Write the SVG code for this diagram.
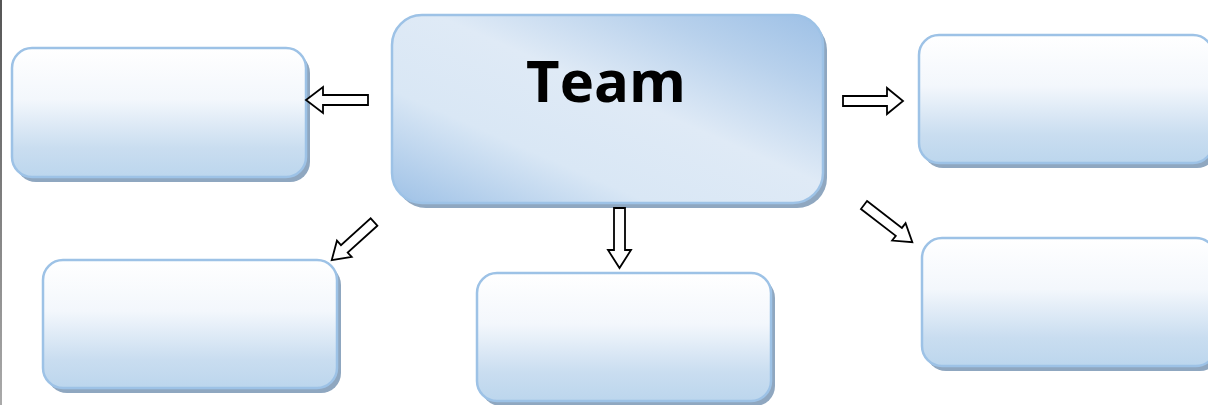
<svg xmlns="http://www.w3.org/2000/svg" width="1208" height="405" viewBox="0 0 1208 405">
<defs>
<linearGradient id="gNode" x1="0" y1="0" x2="0" y2="1">
<stop offset="0" stop-color="#ffffff"/>
<stop offset="0.4" stop-color="#f3f7fc"/>
<stop offset="0.78" stop-color="#c9ddf0"/>
<stop offset="1" stop-color="#bcd6ed"/>
</linearGradient>
<linearGradient id="gMain" x1="0" y1="1" x2="1" y2="0">
<stop offset="0" stop-color="#9ec1e6"/>
<stop offset="0.3" stop-color="#d9e7f5"/>
<stop offset="0.55" stop-color="#dfeaf6"/>
<stop offset="0.8" stop-color="#b8d1ec"/>
<stop offset="1" stop-color="#9dc0e6"/>
</linearGradient>
<linearGradient id="gEdge" x1="0" y1="0" x2="0" y2="1">
<stop offset="0" stop-color="#555"/>
<stop offset="1" stop-color="#aaa"/>
</linearGradient>
</defs>
<style>
.shadow{fill:#8fa7c0}
.box{fill:url(#gNode);stroke:#9dc2e6;stroke-width:2.5}
.main{fill:url(#gMain);stroke:#9dc2e6;stroke-width:2.5}
.arrow{fill:#ffffff;stroke:#000;stroke-width:1.8;stroke-linejoin:miter}
.title{font-family:"Open Sans","DejaVu Sans",sans-serif;font-weight:bold;font-size:58px;fill:#000}
</style>
<rect x="0" y="0" width="2" height="405" fill="url(#gEdge)"/>
<g id="team">
<rect class="shadow" x="396" y="20" width="431" height="188" rx="30"/>
<rect class="main" x="392" y="15" width="431" height="188" rx="30"/>
<text class="title" x="606" y="102" text-anchor="middle">Team</text>
</g>
<g id="node-left">
<rect class="shadow" x="16" y="53" width="294" height="129" rx="20"/>
<rect class="box" x="12" y="48" width="294" height="129" rx="20"/>
</g>
<g id="node-right">
<rect class="shadow" x="923" y="40" width="294" height="128" rx="20"/>
<rect class="box" x="919" y="35" width="294" height="128" rx="20"/>
</g>
<g id="node-bottom-left">
<rect class="shadow" x="47" y="265" width="294" height="128" rx="20"/>
<rect class="box" x="43" y="260" width="294" height="128" rx="20"/>
</g>
<g id="node-bottom-center">
<rect class="shadow" x="481" y="278" width="294" height="128" rx="20"/>
<rect class="box" x="477" y="273" width="294" height="128" rx="20"/>
</g>
<g id="node-bottom-right">
<rect class="shadow" x="926" y="243" width="294" height="128" rx="20"/>
<rect class="box" x="922" y="238" width="294" height="128" rx="20"/>
</g>
<g id="connectors">
<path class="arrow" transform="translate(368,100) rotate(180)" d="M0,-5 L45,-5 L45,-13 L62,0 L45,13 L45,5 L0,5 Z"/>
<path class="arrow" transform="translate(843,101)" d="M0,-5 L44,-5 L44,-13 L60,0 L44,13 L44,5 L0,5 Z"/>
<path class="arrow" transform="translate(619.5,208) rotate(90)" d="M0,-5.5 L42,-5.5 L42,-11.5 L60,0 L42,11.5 L42,5.5 L0,5.5 Z"/>
<path class="arrow" transform="translate(374,222) rotate(137.9)" d="M0,-5 L40,-5 L40,-11 L57,0 L40,11 L40,5 L0,5 Z"/>
<path class="arrow" transform="translate(864,205) rotate(37.6)" d="M0,-5 L44,-5 L44,-11 L61,0 L44,11 L44,5 L0,5 Z"/>
</g>
</svg>
